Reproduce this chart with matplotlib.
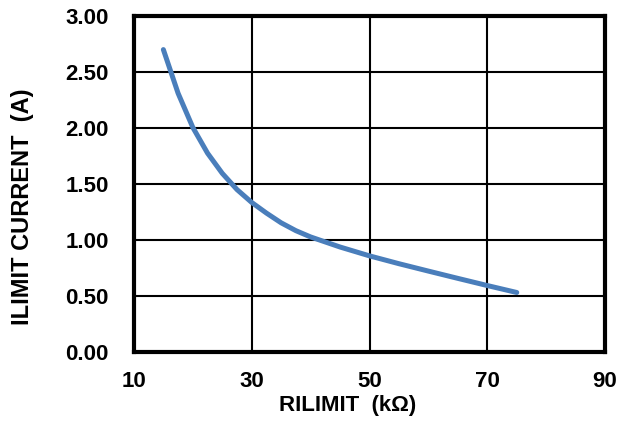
import matplotlib
matplotlib.use("Agg")
import matplotlib.pyplot as plt

# RILIMIT (kOhm) vs ILIMIT current (A)
r_limit = [15, 17.5, 20, 22.5, 25, 27.5, 30, 32.5, 35, 37.5, 40, 45, 50, 55, 60, 65, 70, 75]
i_limit = [2.700, 2.310, 2.005, 1.775, 1.595, 1.450, 1.335, 1.240, 1.153, 1.083,
           1.027, 0.937, 0.858, 0.788, 0.722, 0.657, 0.593, 0.531]

x_ticks = [10, 30, 50, 70, 90]
y_ticks = [0.0, 0.5, 1.0, 1.5, 2.0, 2.5, 3.0]

plt.rcParams["font.family"] = ["Liberation Sans", "DejaVu Sans"]
plt.rcParams["font.weight"] = "bold"

fig = plt.figure(figsize=(6.2, 4.21), dpi=100)
ax = fig.add_axes([0.216, 0.164, 0.76, 0.798])

ax.plot(r_limit, i_limit, color="#4a7ebb", lw=3.6, solid_capstyle="round",
        solid_joinstyle="round")

ax.set_xlim(10, 90)
ax.set_ylim(0, 3)
ax.set_xticks(x_ticks)
ax.set_yticks(y_ticks)
ax.set_yticklabels(["%.2f" % v for v in y_ticks])
ax.grid(True, color="black", lw=1.5)
ax.set_axisbelow(True)
for s in ax.spines.values():
    s.set_linewidth(3)
ax.tick_params(length=0, labelsize=16)
ax.tick_params(axis="x", pad=14)
ax.tick_params(axis="y", pad=18)
for lab in ax.get_xticklabels() + ax.get_yticklabels():
    lab.set_fontweight("bold")

# axis titles placed like the reference (not centred on the axes)
fig.text(0.56, 0.036, "RILIMIT  (k\u03a9)", fontsize=16, fontweight="bold",
         ha="center", va="center")
fig.text(0.036, 0.508, "ILIMIT CURRENT  (A)", fontsize=17, fontweight="bold",
         ha="center", va="center", rotation=90)

fig.savefig("out.png", dpi=100)
